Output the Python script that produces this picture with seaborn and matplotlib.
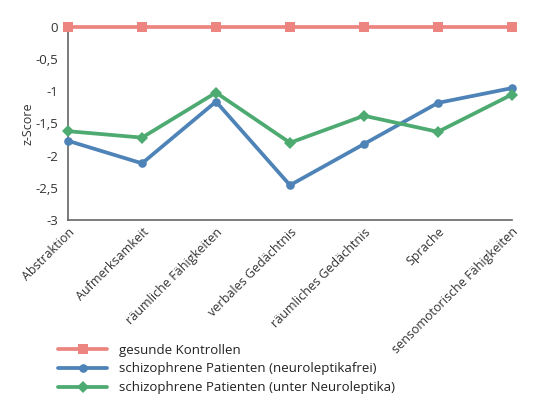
import matplotlib
matplotlib.use("Agg")
import matplotlib.pyplot as plt
import seaborn as sns
import pandas as pd
import numpy as np

categories = ["Abstraktion", "Aufmerksamkeit", "räumliche Fähigkeiten", "verbales Gedächtnis",
              "räumliches Gedächtnis", "Sprache", "sensomotorische Fähigkeiten"]
gesund = [0, 0, 0, 0, 0, 0, 0]
neurofrei = [-1.77, -2.12, -1.16, -2.46, -1.82, -1.18, -0.95]
neuroleptika = [-1.62, -1.72, -1.02, -1.80, -1.38, -1.63, -1.05]
series_names = ["gesunde Kontrollen", "schizophrene Patienten (neuroleptikafrei)",
                "schizophrene Patienten (unter Neuroleptika)"]
yticks = [0, -0.5, -1, -1.5, -2, -2.5, -3]
ytick_labels = ["0", "-0,5", "-1", "-1,5", "-2", "-2,5", "-3"]

sns.set_theme(style="white")
plt.rcParams['font.family'] = ['Open Sans', 'DejaVu Sans']

rows = []
for name, vals in zip(series_names, [gesund, neurofrei, neuroleptika]):
    for i, v in enumerate(vals):
        rows.append({"idx": i, "Kategorie": categories[i], "z": v, "Gruppe": name})
df = pd.DataFrame(rows)

colors = ["#EC8480", "#4E83B7", "#4DAA70"]
markers = ["s", "o", "D"]
msizes = [7, 6.2, 6]

fig = plt.figure(figsize=(5.4, 3.97), dpi=100)
ax = fig.add_axes([0.126, 0.446, 0.822, 0.486])

for name, c, m, ms in zip(series_names, colors, markers, msizes):
    sub = df[df["Gruppe"] == name]
    sns.lineplot(data=sub, x="idx", y="z", ax=ax, color=c, marker=m, markersize=ms,
                 markeredgewidth=0, linewidth=2.7, label=name, clip_on=False, zorder=3)

ax.set_xlim(0, len(categories) - 1)
ax.set_ylim(-3, 0)
ax.set_xticks(range(len(categories)))
ax.set_xticklabels(categories, rotation=45, ha="right", rotation_mode="anchor", fontsize=9, color="#333333")
ax.set_yticks(yticks)
ax.set_yticklabels(ytick_labels, fontsize=9.5, color="#333333")
ax.set_xlabel("")
ax.set_ylabel("z-Score", fontsize=9, color="#333333", labelpad=1)
ax.tick_params(axis="both", direction="in", length=5, width=1, color="#555555")
ax.tick_params(axis="y", pad=7)
ax.tick_params(axis="x", pad=4)
for s in ["top", "right"]:
    ax.spines[s].set_visible(False)
for s in ["left", "bottom"]:
    ax.spines[s].set_color("#666666")
    ax.spines[s].set_linewidth(1.2)

ax.legend_.remove()
handles, labels = ax.get_legend_handles_labels()
fig.legend(handles, labels, loc="upper left", bbox_to_anchor=(0.098, 0.148), frameon=False,
           fontsize=9.5, handlelength=3.7, labelspacing=0.45, handletextpad=0.9,
           borderaxespad=0, labelcolor="#222222")

fig.savefig("out.png", dpi=100)
